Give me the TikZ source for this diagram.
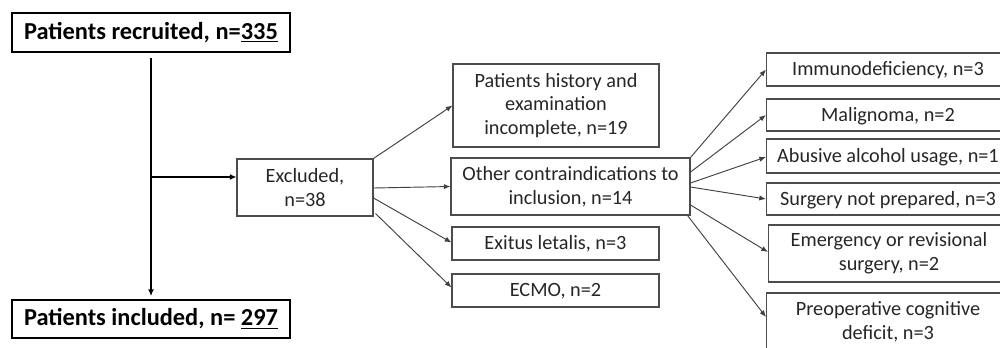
\documentclass[tikz,border=0pt]{standalone}
\usepackage{fontspec}
\setmainfont{Carlito}
\usetikzlibrary{arrows.meta,calc}
\begin{document}
\begin{tikzpicture}[x=0.75pt,y=-0.75pt,
  wh/.style 2 args={minimum width={#1*0.75pt},minimum height={#2*0.75pt}},
  box/.style={draw=black!70,line width=0.8pt,align=center,inner sep=0pt,font=\fontsize{15.2}{17.8}\selectfont,text=black!85},
  one/.style={text height=11.6pt,text depth=2pt},
  mainbox/.style={draw=black,line width=1.4pt,align=center,inner sep=0pt,font=\fontsize{18.3}{20}\selectfont\bfseries},
  conn/.style={draw=black!75,line width=0.7pt,-{Latex[length=5pt,width=4pt]}},
  mainconn/.style={draw=black,line width=1.1pt,-{Latex[length=5pt,width=4.5pt]}}
]
\useasboundingbox (0,0) rectangle (1000,347);
\begin{scope}
\clip (0,0) rectangle (1000,347);
\node[mainbox,wh={278}{39}] (rec) at (151,32.5) {Patients recruited, n=\underline{335}};
\node[mainbox,wh={278}{38}] (inc) at (151,319) {Patients included, n=~\underline{297}};
\node[box,wh={136}{57}] (exc) at (305,187.5) {Excluded,\\n=38};
\node[box,wh={206}{83}] (hist) at (556,105.5) {Patients history and\\examination\\incomplete, n=19};
\node[box,wh={239}{57}] (oth) at (570.5,186.5) {Other contraindications to\\inclusion, n=14};
\node[box,one,wh={207}{33}] (exi) at (555.5,243.5) {Exitus letalis, n=3};
\node[box,one,wh={207}{33}] (ecmo) at (555.5,290.5) {ECMO, n=2};
\node[box,one,wh={243}{33}] (imm) at (888,69.5) {Immunodeficiency, n=3};
\node[box,one,wh={243}{32}] (mal) at (888,115) {Malignoma, n=2};
\node[box,one,wh={243}{34}] (abu) at (888,156) {Abusive alcohol usage, n=1};
\node[box,one,wh={243}{32}] (sur) at (888,199) {Surgery not prepared, n=3};
\node[box,wh={241}{57}] (eme) at (889,253.5) {Emergency or revisional\\surgery, n=2};
\node[box,wh={243}{57}] (pre) at (888,321.5) {Preoperative cognitive\\deficit, n=3};

\coordinate (top) at ($(rec.south)+(0,5)$);
\coordinate (br) at (151,177);
\draw[mainconn] (top) -- ($(inc.north)+(0,-3)$);
\draw[mainconn] (br) -- (br -| exc.west);

\draw[conn] (exc.north east) -- (hist.west);
\draw[conn] ($(exc.east)+(0,0.5)$) -- (oth.west);
\draw[conn] ($(exc.east)+(0,10.5)$) -- ($(exi.west)+(0,-1)$);
\draw[conn] ($(exc.south east)+(2,-3)$) -- ($(ecmo.west)+(0,-3)$);

\draw[conn] (oth.north east) -- (imm.west);
\draw[conn] ($(oth.east)+(0,-14.5)$) -- (mal.west);
\draw[conn] ($(oth.east)+(0,-3.5)$) -- ($(abu.west)+(0,1)$);
\draw[conn] ($(oth.east)+(0,0.5)$) -- (sur.west);
\draw[conn] ($(oth.east)+(0,18.5)$) -- ($(eme.west)+(0,-1.5)$);
\draw[conn] ($(oth.south east)+(-3,0)$) -- ($(pre.west)+(0,-4.5)$);
\end{scope}
\end{tikzpicture}
\end{document}
